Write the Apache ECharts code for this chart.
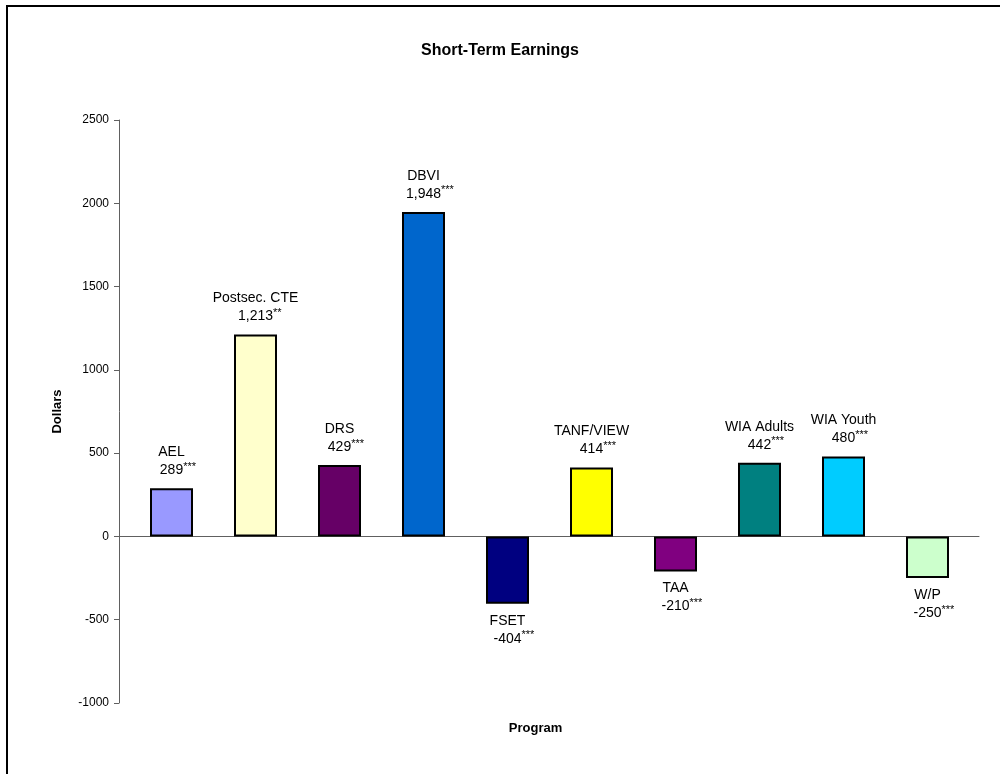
<!DOCTYPE html>
<html>
<head>
<meta charset="utf-8">
<script src="https://cdn.jsdelivr.net/npm/echarts@6/dist/echarts.min.js"></script>
<style>html,body{margin:0;padding:0;background:#fff}#c{width:1000px;height:774px}</style>
</head>
<body>
<div id="c"></div>
<script>
const programs = ['AEL', 'Postsec. CTE', 'DRS', 'DBVI', 'FSET', 'TANF/VIEW', 'TAA', 'WIA Adults', 'WIA Youth', 'W/P'];
const earnings = [289, 1213, 429, 1948, -404, 414, -210, 442, 480, -250];
const stars = ['***', '**', '***', '***', '***', '***', '***', '***', '***', '***'];
const barColors = ['#9999FF', '#FFFFCC', '#660066', '#0066CC', '#000080', '#FFFF00', '#800080', '#008080', '#00CCFF', '#CCFFCC'];
const yTicks = { min: -1000, max: 2500, interval: 500 };

const FONT = '"Liberation Sans", Arial, sans-serif';
const chart = echarts.init(document.getElementById('c'), null, { renderer: 'canvas' });

const fmt = v => v.toLocaleString('en-US');

const seriesData = earnings.map((v, i) => ({
  value: v,
  itemStyle: { color: barColors[i] },
  label: v >= 0 ? { position: 'top', distance: 9 } : { position: 'bottom', distance: 8 }
}));

chart.setOption({
  animation: false,
  backgroundColor: '#fff',
  title: {
    text: 'Short-Term Earnings',
    left: 'center',
    top: 43,
    padding: 0,
    textStyle: { fontFamily: FONT, fontSize: 16, fontWeight: 'bold', color: '#000' }
  },
  graphic: [{
    type: 'rect',
    shape: { x: 7, y: 6, width: 1100, height: 1000 },
    style: { fill: 'none', stroke: '#000', lineWidth: 2 },
    silent: true
  }],
  grid: [
    { left: 129.5, right: 30.5, top: 120, bottom: 71 },
    { left: 119, right: 21, top: 120, bottom: 71 }
  ],
  xAxis: [
    {
      gridIndex: 0, type: 'category', data: programs,
      axisLine: { show: false, onZero: false }, axisTick: { show: false }, axisLabel: { show: false },
      name: 'Program', nameLocation: 'middle', nameGap: 19,
      nameTextStyle: { fontFamily: FONT, fontSize: 13, fontWeight: 'bold', color: '#000', padding: [0, 28, 0, 0] }
    },
    {
      gridIndex: 1, type: 'category', data: programs,
      axisLine: { show: true, onZero: true, lineStyle: { color: '#606060', width: 1 } },
      axisTick: { show: false }, axisLabel: { show: false }
    }
  ],
  yAxis: [
    {
      gridIndex: 0, type: 'value', min: yTicks.min, max: yTicks.max, interval: yTicks.interval,
      show: false, splitLine: { show: false }
    },
    {
      gridIndex: 1, type: 'value', min: yTicks.min, max: yTicks.max, interval: yTicks.interval,
      axisLine: { show: true, lineStyle: { color: '#606060', width: 1 } },
      axisTick: { show: true, inside: false, length: 5, lineStyle: { color: '#606060' } },
      axisLabel: { fontFamily: FONT, fontSize: 12, color: '#000', margin: 10, formatter: v => String(v) },
      splitLine: { show: false },
      name: 'Dollars', nameLocation: 'middle', nameGap: 55, nameRotate: 90,
      nameTextStyle: { fontFamily: FONT, fontSize: 13, fontWeight: 'bold', color: '#000' }
    }
  ],
  series: [{
    type: 'bar',
    xAxisIndex: 0, yAxisIndex: 0,
    barWidth: 43,
    data: seriesData,
    itemStyle: { borderColor: '#000', borderWidth: 2 },
    label: {
      show: true,
      fontFamily: FONT,
      color: '#000',
      formatter: p => {
        const i = p.dataIndex;
        return '{n|' + programs[i] + '}\n{h|' + stars[i] + '}{v|' + fmt(earnings[i]) + '}{s|' + stars[i] + '}';
      },
      rich: {
        n: { fontFamily: FONT, fontSize: 14, lineHeight: 18, color: '#000', align: 'center' },
        v: { fontFamily: FONT, fontSize: 14, lineHeight: 18, color: '#000' },
        s: { fontFamily: FONT, fontSize: 11, lineHeight: 13, color: '#000', verticalAlign: 'top' },
        h: { fontFamily: FONT, fontSize: 11, lineHeight: 13, color: 'rgba(0,0,0,0)', verticalAlign: 'top' }
      }
    }
  }]
});
</script>
</body>
</html>
